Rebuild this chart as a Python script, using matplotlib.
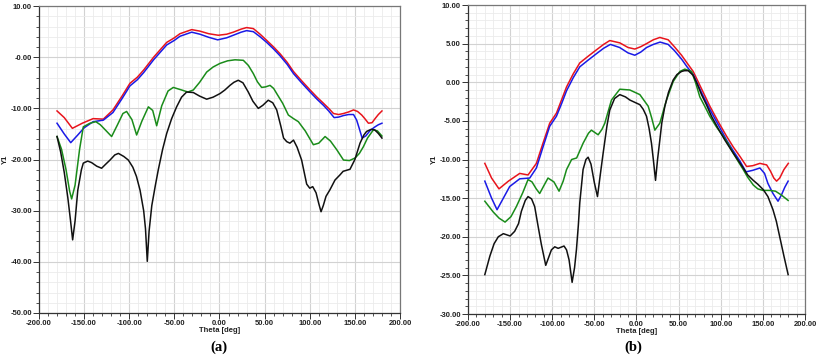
import matplotlib
matplotlib.use("Agg")
import matplotlib.pyplot as plt
from matplotlib.ticker import MultipleLocator, FormatStrFormatter, FuncFormatter

plt.rcParams["font.family"] = ["Liberation Sans", "DejaVu Sans"]

# ---- panel (a) ----
a_red_t = [-180, -172, -163, -152, -140, -128.7, -118, -108, -99.2, -91, -84, -73, -65, -58.5, -50, -43.8,
           -30.8, -21.6, -12, -1.3, 8, 15.3, 24, 30, 37.5, 45, 52.3, 60, 67, 75, 82, 91, 100.4, 108,
           115.2, 121, 126.3, 132, 137.4, 143, 148.5, 153, 157.6, 161, 165, 169, 172.4, 176, 180]
a_red_y = [-10.5, -11.8, -13.9, -12.9, -12.0, -12.1, -10.3, -7.6, -5.1, -3.9, -2.5, 0.0, 1.6, 2.9, 3.8, 4.6,
           5.4, 5.1, 4.6, 4.3, 4.5, 4.9, 5.5, 5.8, 5.6, 4.5, 3.3, 2.0, 0.7, -1.0, -2.8, -4.6, -6.4, -7.8,
           -9.0, -10.0, -11.0, -11.2, -11.0, -10.7, -10.3, -10.6, -11.3, -12.0, -12.9, -12.8, -12.0, -11.2, -10.5]
a_blue_t = [-180, -172, -164.8, -157, -150, -140, -128.7, -118, -108, -99.2, -91, -84, -73, -65, -58.5,
            -50, -43.8, -30.8, -21.6, -12, -2, 8, 15.3, 24, 30, 37.5, 45, 52.3, 60, 67, 75, 82, 91, 100.4,
            108, 115.2, 121, 127, 132, 137.4, 143, 148.5, 152, 155, 158, 162, 167, 172.4, 176, 180]
a_blue_y = [-12.9, -15.0, -16.7, -15.2, -13.8, -12.6, -12.3, -10.8, -8.1, -5.6, -4.4, -3.0, -0.5, 1.1, 2.4,
            3.3, 4.1, 4.9, 4.5, 3.9, 3.4, 3.8, 4.3, 4.9, 5.2, 5.0, 4.0, 2.9, 1.6, 0.3, -1.4, -3.2, -5.0,
            -6.8, -8.2, -9.4, -10.5, -11.8, -11.7, -11.4, -11.2, -11.2, -12.3, -14.0, -15.8, -15.4, -14.3,
            -13.6, -13.2, -12.9]
a_green_t = [-180, -175, -170, -166, -163.8, -160, -155, -150.9, -143.5, -137, -132, -126, -119.5, -113,
             -107, -102.9, -97, -91.8, -86, -78.8, -74, -69.6, -64, -57, -51.2, -42, -35, -29, -22, -14.2,
             -7, 0.6, 9, 17.2, 26.4, 32, 37.5, 42, 46.7, 51, 56, 60, 63.4, 70, 76.3, 82, 87.4, 95, 104,
             110, 117, 123, 130, 137.4, 144, 150.2, 155, 159.4, 164, 170.5, 175, 180]
a_green_y = [-15.5, -18.0, -22.0, -26.2, -27.7, -25.0, -18.0, -13.6, -12.9, -12.6, -13.2, -14.3, -15.5,
             -13.2, -11.0, -10.6, -12.2, -15.2, -12.5, -9.7, -10.4, -13.4, -9.5, -6.6, -5.9, -6.4, -6.8,
             -6.4, -4.9, -2.9, -1.9, -1.2, -0.7, -0.5, -0.6, -1.6, -3.2, -4.8, -5.9, -5.8, -5.5, -6.1,
             -7.1, -9.0, -11.3, -12.0, -12.6, -14.4, -17.1, -16.8, -15.5, -16.4, -18.1, -20.1, -20.2,
             -19.7, -18.8, -17.5, -15.8, -14.2, -14.4, -15.4]
a_black_t = [-180, -176, -172, -168, -165, -162.7, -160, -157, -153, -150.9, -146, -141.7, -136, -130.6,
             -126, -121.3, -116, -112, -106, -101, -96, -92, -88, -84, -82, -80, -78, -75, -71, -67.8,
             -63, -58.5, -53, -47.5, -42, -36.4, -29, -22, -14.2, -7, 0.6, 6, 11.6, 16, 20.8, 26,
             31.9, 37, 43, 48, 54, 59, 63.4, 68, 71, 74.5, 78, 82, 86, 91, 96.6, 100, 103.3, 107, 110,
             112.5, 115, 118, 122.4, 128, 133.5, 137, 144.6, 150, 155.7, 160, 163, 168, 172, 176, 180]
a_black_y = [-15.5, -18.5, -22.5, -27.5, -32.0, -35.7, -32.0, -26.0, -22.0, -20.7, -20.3, -20.6, -21.3,
             -21.7, -20.9, -20.1, -19.1, -18.8, -19.4, -20.1, -21.5, -23.3, -26.0, -30.0, -33.5, -39.9,
             -34.0, -29.0, -25.0, -22.0, -18.0, -14.9, -12.0, -9.7, -7.8, -6.8, -6.9, -7.6, -8.2, -7.8,
             -7.1, -6.4, -5.5, -4.9, -4.5, -5.0, -6.8, -8.6, -10.0, -9.4, -8.4, -8.9, -10.3, -13.5,
             -15.8, -16.5, -16.8, -16.2, -17.6, -20.1, -24.8, -25.6, -25.3, -26.5, -28.6, -30.2, -29.0,
             -27.2, -25.9, -24.0, -23.0, -22.3, -21.9, -20.0, -16.8, -15.2, -14.5, -14.1, -14.2, -14.9,
             -15.8]

# ---- panel (b) ----
b_red_t = [-180, -172, -163.2, -152, -138.6, -128.7, -118.8, -111, -103, -95, -89, -83, -75, -67.3, -57,
           -47.5, -39, -31.7, -19.8, -10, -2, 5, 11.9, 20, 27.7, 37.6, 45, 53.5, 60, 67.3, 77, 87.1, 97,
           107, 115, 122.8, 130.7, 138, 146.5, 154.5, 159, 163, 166.3, 170, 175, 180.2]
b_red_y = [-10.5, -12.4, -13.8, -12.8, -11.8, -12.0, -10.5, -7.9, -5.3, -4.0, -2.3, -0.6, 1.1, 2.5, 3.4,
           4.2, 4.9, 5.4, 5.1, 4.5, 4.3, 4.6, 5.0, 5.5, 5.8, 5.5, 4.6, 3.5, 2.5, 1.4, -0.8, -3.1, -5.1,
           -7.0, -8.4, -9.6, -10.9, -10.8, -10.5, -10.7, -11.5, -12.4, -12.8, -12.4, -11.3, -10.5]
b_blue_t = [-180, -172, -165.5, -158, -150.5, -138.6, -126.7, -118.8, -111, -103, -95, -89, -83, -75,
            -67.3, -57, -47.5, -39, -31, -20, -10, -2, 5, 12, 20, 28, 37.6, 45, 53.5, 60, 67.3, 77, 87,
            97, 107, 115, 122.8, 130, 138, 146.5, 152, 156, 162, 168, 172, 176, 180]
b_blue_y = [-12.8, -15.0, -16.5, -15.0, -13.5, -12.5, -12.4, -11.1, -8.4, -5.7, -4.4, -2.8, -1.1, 0.6,
            2.0, 2.9, 3.7, 4.4, 4.9, 4.5, 3.8, 3.5, 3.9, 4.5, 4.9, 5.2, 4.9, 4.1, 3.0, 2.0, 1.0, -1.3,
            -3.5, -5.5, -7.5, -8.9, -10.2, -11.6, -11.4, -11.1, -11.8, -13.1, -14.4, -15.4, -14.6,
            -13.6, -12.8]
b_green_t = [-180, -170, -163, -156, -149, -142.6, -135, -128.7, -124, -119, -114.9, -110, -105, -98,
             -91.9, -87, -83, -77, -71, -63.4, -57, -53.5, -45.5, -41, -37.6, -29.7, -19.8, -7.9, 4,
             13.9, 18, 21.8, 27.7, 35.6, 43.6, 51.5, 57.4, 65.3, 70, 75.2, 81, 87, 95, 103, 109, 114.9,
             121, 126.7, 132, 138.6, 144, 150, 158, 165, 172, 180]
b_green_y = [-15.4, -16.8, -17.6, -18.1, -17.4, -16.1, -14.3, -12.6, -12.9, -13.8, -14.4, -13.4, -12.4,
             -12.9, -14.1, -12.8, -11.3, -10.0, -9.8, -7.9, -6.6, -6.2, -6.8, -6.1, -5.3, -2.3, -0.9, -1.0,
             -1.6, -3.1, -4.6, -6.2, -5.3, -2.3, 0.1, 1.4, 1.7, 1.4, 0.0, -1.9, -3.1, -4.4, -5.8, -7.0,
             -8.0, -9.2, -10.3, -11.3, -12.3, -13.3, -13.8, -14.0, -14.0, -14.1, -14.6, -15.3]
b_black_t = [-180, -177, -174, -169, -164, -158, -150, -144.6, -140, -136.6, -132, -128.7, -124.5, -120.8,
             -117, -112.9, -107.7, -104, -101, -97, -93, -86, -83, -80, -76.4, -73.5, -71.3, -69, -67.3,
             -63.4, -60, -57.4, -54, -50, -46.3, -43, -39.6, -35, -31.7, -26, -19.8, -13, -7.9, -2, 4, 8,
             11.9, 15, 17.8, 20, 22.6, 25, 27.7, 30, 33.7, 38, 43.6, 48, 53.5, 57, 61.4, 67.3, 72, 77.2, 83,
             89, 97, 105, 112, 118.8, 126.7, 132, 138.6, 144, 150.5, 156, 162, 166, 170, 175, 180]
b_black_y = [-24.9, -23.7, -22.5, -20.9, -20.0, -19.6, -19.9, -19.3, -18.3, -16.7, -15.3, -14.8, -15.1,
             -16.1, -18.5, -21.0, -23.7, -22.6, -21.7, -21.3, -21.5, -21.2, -21.7, -23.0, -25.9, -24.0,
             -21.7, -18.5, -15.6, -11.3, -10.0, -9.7, -10.6, -13.0, -14.8, -12.0, -9.2, -5.6, -3.6, -2.1,
             -1.6, -1.9, -2.3, -2.6, -2.9, -3.5, -4.4, -6.0, -7.9, -10.0, -12.7, -10.0, -7.5, -5.3, -3.1,
             -1.3, 0.3, 1.0, 1.4, 1.5, 1.5, 0.9, -0.2, -1.6, -2.9, -4.4, -6.0, -7.5, -8.7, -9.8, -11.1,
             -12.0, -12.7, -13.2, -13.9, -14.8, -16.5, -18.0, -20.0, -22.5, -24.9]

COLORS = {"red": "#e8141c", "blue": "#1a1ae6", "green": "#1a8c1a", "black": "#111111"}
TICK_FS = 5.5


def style_axes(ax, ylim, ymajor, yminor, yfmt):
    ax.set_xlim(-200, 200)
    ax.set_ylim(*ylim)
    ax.xaxis.set_major_locator(MultipleLocator(50))
    ax.xaxis.set_minor_locator(MultipleLocator(10))
    ax.yaxis.set_major_locator(MultipleLocator(ymajor))
    ax.yaxis.set_minor_locator(MultipleLocator(yminor))
    ax.xaxis.set_major_formatter(FormatStrFormatter("%.2f"))
    ax.yaxis.set_major_formatter(yfmt)
    ax.grid(which="major", color="#d2d2d2", linewidth=0.8)
    ax.grid(which="minor", color="#ebebeb", linewidth=0.6)
    ax.set_axisbelow(True)
    ax.tick_params(which="major", length=4, width=0.7, color="#333333", labelsize=TICK_FS, pad=1)
    ax.tick_params(which="minor", length=2, width=0.6, color="#333333")
    for lab in ax.get_xticklabels() + ax.get_yticklabels():
        lab.set_fontweight("bold")
        lab.set_color("#222222")
    for side in ["top", "right"]:
        ax.spines[side].set_color("#777777")
    for side in ["left", "bottom"]:
        ax.spines[side].set_color("#333333")
    for sp in ax.spines.values():
        sp.set_linewidth(0.9)
    ax.set_xlabel("Theta [deg]", fontsize=TICK_FS, fontweight="bold", labelpad=0, color="#222222")
    ax.set_ylabel("Y1", fontsize=TICK_FS, fontweight="bold", labelpad=1, color="#222222")


def fmt_a(v, pos):
    if abs(v) < 1e-9:
        return "-0.00"
    return "%.2f" % v


fig = plt.figure(figsize=(8.17, 3.58), dpi=100)
ax_a = fig.add_axes([0.0477, 0.1257, 0.4419, 0.8573])
ax_b = fig.add_axes([0.5728, 0.1229, 0.4125, 0.8631])

for ax, curves in [
    (ax_a, [(a_red_t, a_red_y, "red"), (a_blue_t, a_blue_y, "blue"),
            (a_green_t, a_green_y, "green"), (a_black_t, a_black_y, "black")]),
    (ax_b, [(b_red_t, b_red_y, "red"), (b_blue_t, b_blue_y, "blue"),
            (b_green_t, b_green_y, "green"), (b_black_t, b_black_y, "black")]),
]:
    for t, y, c in curves:
        ax.plot(t, y, color=COLORS[c], linewidth=1.1, solid_joinstyle="round")

style_axes(ax_a, (-50, 10), 10, 2, FuncFormatter(fmt_a))
style_axes(ax_b, (-30, 10), 5, 1, FormatStrFormatter("%.2f"))

fig.text(0.268, 0.03, "(a)", family="Liberation Serif", fontweight="bold", fontsize=10.5,
         ha="center", va="center")
fig.text(0.775, 0.03, "(b)", family="Liberation Serif", fontweight="bold", fontsize=10.5,
         ha="center", va="center")

fig.savefig("out.png", dpi=100)
